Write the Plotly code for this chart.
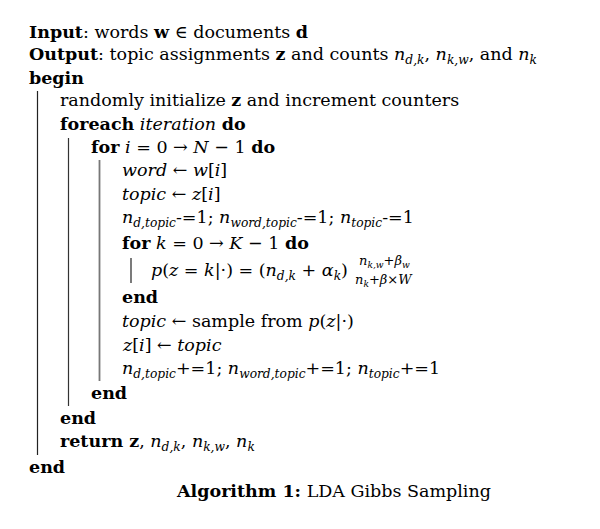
import plotly.graph_objects as go

# --- content (text lines of the algorithm) ---
line_texts = [
    "<b>Input</b>: words <b>w</b> ∈ documents <b>d</b>",
    "<b>Output</b>: topic assignments <b>z</b> and counts <i>n</i><sub><i>d,k</i></sub>, <i>n</i><sub><i>k,w</i></sub>, and <i>n</i><sub><i>k</i></sub>",
    "<b>begin</b>",
    "randomly initialize <b>z</b> and increment counters",
    "<b>foreach</b> <i>iteration</i> <b>do</b>",
    "<b>for</b> <i>i</i> = 0 → <i>N</i> − 1 <b>do</b>",
    "<i>word</i> ← <i>w</i>[<i>i</i>]",
    "<i>topic</i> ← <i>z</i>[<i>i</i>]",
    "<i>n</i><sub><i>d,topic</i></sub>-=1; <i>n</i><sub><i>word,topic</i></sub>-=1; <i>n</i><sub><i>topic</i></sub>-=1",
    "<b>for</b> <i>k</i> = 0 → <i>K</i> − 1 <b>do</b>",
    "<i>p</i>(<i>z</i> = <i>k</i>|·) = (<i>n</i><sub><i>d,k</i></sub> + <i>α</i><sub><i>k</i></sub>)",
    "<b>end</b>",
    "<i>topic</i> ← sample from <i>p</i>(<i>z</i>|·)",
    "<i>z</i>[<i>i</i>] ← <i>topic</i>",
    "<i>n</i><sub><i>d,topic</i></sub>+=1; <i>n</i><sub><i>word,topic</i></sub>+=1; <i>n</i><sub><i>topic</i></sub>+=1",
    "<b>end</b>",
    "<b>end</b>",
    "<b>return z</b>, <i>n</i><sub><i>d,k</i></sub>, <i>n</i><sub><i>k,w</i></sub>, <i>n</i><sub><i>k</i></sub>",
    "<b>end</b>",
]
line_levels = [0, 0, 0, 1, 1, 2, 3, 3, 3, 3, 4, 3, 3, 3, 3, 2, 1, 1, 0]
line_y = [32, 55, 78, 100, 124, 147, 170, 194, 218, 243, 271, 297, 321, 345, 369, 393, 418, 442, 467]

fraction_num = "<i>n</i><sub><i>k,w</i></sub>+<i>β</i><sub><i>w</i></sub>"
fraction_den = "<i>n</i><sub><i>k</i></sub>+<i>β</i>×<i>W</i>"
caption = "<b>Algorithm 1:</b> LDA Gibbs Sampling"

# block rules: (level, y_start, y_end)
rule_level = [0, 1, 2, 3]
rule_y0 = [91, 138, 160, 258]
rule_y1 = [455, 406, 381, 283]

# --- layout parameters ---
OFF = 8  # page body margin compensation
indent_x = [27, 58, 89, 120, 149]
rule_x = [37.5, 68.5, 99.5, 131]
rule_colors = ["#222222", "#333333", "#777777", "#222222"]
rule_widths = [1.2, 1.2, 1.8, 1.2]
FONT = "DejaVu Serif"
SIZE = 17.5

fig = go.Figure()
fig.add_trace(go.Scatter(x=[0, 600], y=[0, 529], mode="markers",
                         marker=dict(opacity=0), hoverinfo="skip", showlegend=False))

anns = []
for t, lv, y in zip(line_texts, line_levels, line_y):
    anns.append(dict(x=indent_x[lv], y=y, text=t, xanchor="left", yanchor="middle",
                     showarrow=False, xref="x", yref="y",
                     font=dict(family=FONT, size=SIZE, color="black")))
anns.append(dict(x=384, y=261, text=fraction_num, xanchor="center", yanchor="middle",
                 showarrow=False, xref="x", yref="y",
                 font=dict(family=FONT, size=13, color="black")))
anns.append(dict(x=384, y=280, text=fraction_den, xanchor="center", yanchor="middle",
                 showarrow=False, xref="x", yref="y",
                 font=dict(family=FONT, size=13, color="black")))
anns.append(dict(x=333, y=491, text=caption, xanchor="center", yanchor="middle",
                 showarrow=False, xref="x", yref="y",
                 font=dict(family=FONT, size=SIZE, color="black")))

shapes = []
for lv, y0, y1 in zip(rule_level, rule_y0, rule_y1):
    shapes.append(dict(type="line", xref="x", yref="y", x0=rule_x[lv], x1=rule_x[lv],
                       y0=y0, y1=y1, line=dict(color=rule_colors[lv], width=rule_widths[lv])))

fig.update_layout(
    width=600, height=529,
    margin=dict(l=0, r=0, t=0, b=0),
    paper_bgcolor="white", plot_bgcolor="white",
    xaxis=dict(range=[OFF, 600 + OFF], visible=False, fixedrange=True),
    yaxis=dict(range=[529 + OFF, OFF], visible=False, fixedrange=True),
    annotations=anns, shapes=shapes, showlegend=False,
)
fig.write_html("out.html")
